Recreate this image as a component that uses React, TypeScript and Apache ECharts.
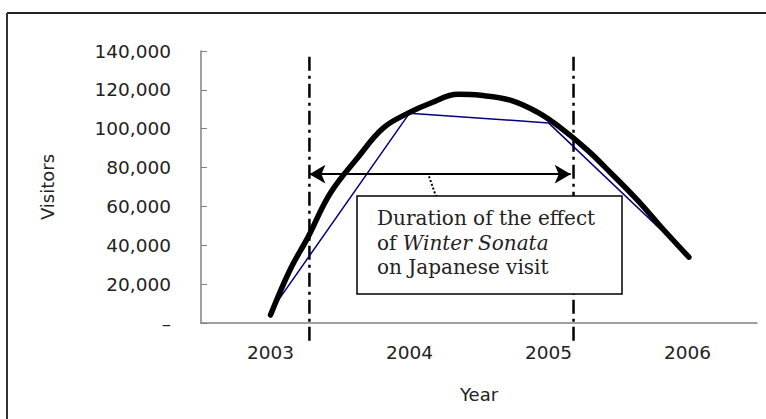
import React, { useEffect, useRef } from "react";
import * as echarts from "echarts";

const years = ["2003", "2004", "2005", "2006"];
const visitors = [6000, 108000, 103000, 35000];

const trendX = [2003.0, 2003.14, 2003.27, 2003.43, 2003.63, 2003.81, 2003.99, 2004.15, 2004.35, 2004.51, 2004.73, 2004.92, 2005.09, 2005.28, 2005.45, 2005.64, 2005.81, 2006.01];
const trendY = [4100, 27300, 44200, 66800, 85300, 100300, 108000, 113100, 117700, 117200, 114600, 108500, 100300, 89000, 77100, 63200, 49400, 33900];

const effectStart = 2003.28;
const effectEnd = 2005.18;
const arrowLevel = 76600;
const guideTop = 137000;
const guideBottom = -11500;
const leaderLine = [
  [2004.14, 75500],
  [2004.19, 65300],
];

const yTicks = [0, 20000, 40000, 60000, 80000, 100000, 120000, 140000];

export default function App() {
  const ref = useRef<HTMLDivElement>(null);
  useEffect(() => {
    if (!ref.current) return;
    const chart = echarts.init(ref.current, undefined, { renderer: "svg" });
    const sans = "DejaVu Sans";
    const serif = "DejaVu Serif";
    chart.setOption({
      animation: false,
      backgroundColor: "#ffffff",
      grid: { left: 201, right: 9, top: 51, bottom: 96 },
      xAxis: [
        {
          type: "category",
          data: years,
          boundaryGap: true,
          axisLine: { lineStyle: { color: "#808080", width: 1.5 } },
          axisTick: { inside: true, length: 6, lineStyle: { color: "#808080" } },
          axisLabel: { margin: 20, fontFamily: sans, fontSize: 18.5, color: "#222" },
          name: "Year",
          nameLocation: "middle",
          nameGap: 62,
          nameTextStyle: { fontFamily: sans, fontSize: 18, color: "#222" },
        },
        {
          type: "value",
          min: 2002.5,
          max: 2006.5,
          show: false,
        },
      ],
      yAxis: {
        type: "value",
        min: yTicks[0],
        max: yTicks[yTicks.length - 1],
        interval: 20000,
        splitLine: { show: false },
        axisLine: { show: true, lineStyle: { color: "#808080", width: 1.5 } },
        axisTick: { show: true, inside: true, length: 6, lineStyle: { color: "#808080" } },
        axisLabel: {
          margin: 30,
          fontFamily: sans,
          fontSize: 18.5,
          color: "#222",
          formatter: (v: number) => (v === 0 ? "–" : v.toLocaleString("en-US")),
        },
        name: "Visitors",
        nameLocation: "middle",
        nameRotate: 90,
        nameGap: 145,
        nameTextStyle: { fontFamily: sans, fontSize: 18, color: "#222" },
      },
      series: [
        {
          type: "line",
          xAxisIndex: 1,
          data: trendX.map((x, i) => [x, trendY[i]]),
          smooth: 0.4,
          symbol: "none",
          lineStyle: { color: "#000", width: 5.5, cap: "round", join: "round" },
          z: 3,
        },
        {
          type: "line",
          xAxisIndex: 0,
          data: visitors,
          symbol: "none",
          lineStyle: { color: "#000080", width: 1.5 },
          z: 2,
        },
        {
          type: "line",
          xAxisIndex: 1,
          data: [
            [effectStart, guideTop],
            [effectStart, guideBottom],
          ],
          clip: false,
          symbol: "none",
          lineStyle: { color: "#000", width: 2.5, type: [14, 5, 3, 5] },
          z: 1,
        },
        {
          type: "line",
          xAxisIndex: 1,
          data: [
            [effectEnd, guideTop],
            [effectEnd, guideBottom],
          ],
          clip: false,
          symbol: "none",
          lineStyle: { color: "#000", width: 2.5, type: [14, 5, 3, 5] },
          z: 1,
        },
        {
          type: "line",
          xAxisIndex: 1,
          data: leaderLine,
          symbol: "none",
          lineStyle: { color: "#000", width: 2, type: [2, 2] },
          z: 4,
        },
        {
          type: "line",
          xAxisIndex: 1,
          data: [],
          markLine: {
            silent: true,
            symbol: ["arrow", "arrow"],
            symbolSize: [14, 16],
            label: { show: false },
            lineStyle: { color: "#000", width: 2, type: "solid" },
            data: [
              [
                { coord: [effectStart, arrowLevel] },
                { coord: [effectEnd - 0.02, arrowLevel] },
              ],
            ],
          },
          z: 4,
        },
      ],
      graphic: [
        {
          type: "line",
          z: 100,
          shape: { x1: 7, y1: 13, x2: 766, y2: 13 },
          style: { stroke: "#222", lineWidth: 2 },
        },
        {
          type: "line",
          z: 100,
          shape: { x1: 7, y1: 13, x2: 7, y2: 419 },
          style: { stroke: "#333", lineWidth: 2 },
        },
        {
          type: "rect",
          z: 100,
          shape: { x: 357, y: 196, width: 265, height: 98 },
          style: { fill: "#fff", stroke: "#000", lineWidth: 1.5 },
        },
        {
          type: "text",
          z: 101,
          x: 377,
          y: 206,
          style: {
            text: "Duration of the effect\nof {i|Winter Sonata}\non Japanese visit",
            fontFamily: serif,
            fontSize: 20,
            lineHeight: 24.5,
            fill: "#222",
            rich: {
              i: { fontFamily: serif, fontSize: 20, fontStyle: "italic", fill: "#222", lineHeight: 24.5 },
            },
          },
        },
      ],
    });
    return () => chart.dispose();
  }, []);
  return (
    <div
      ref={ref}
      style={{ position: "fixed", left: 0, top: 0, width: 766, height: 419, background: "#fff" }}
    />
  );
}
